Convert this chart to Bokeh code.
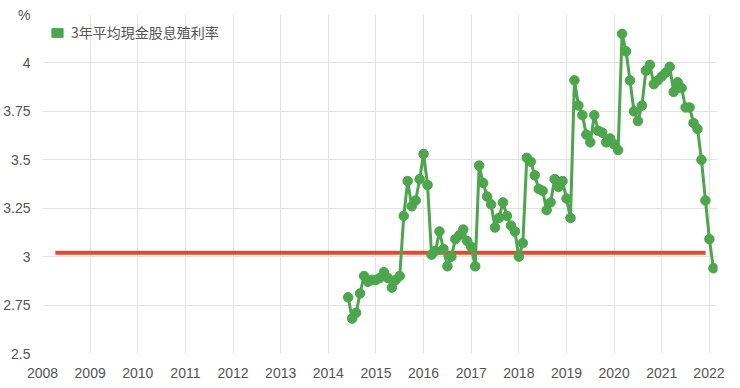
from bokeh.plotting import figure
from bokeh.models import FixedTicker, Range1d, Legend, LegendItem, ColumnDataSource
from bokeh.embed import file_html
from bokeh.resources import INLINE

# ---- data (monthly, month-end, May 2014 .. Jan 2022) ----
start_year, start_month = 2014, 5
yield_3y = [2.79, 2.68, 2.71, 2.81, 2.90, 2.87, 2.88, 2.88, 2.89, 2.92, 2.89, 2.84,
            2.88, 2.90, 3.21, 3.39, 3.26, 3.29, 3.40, 3.53, 3.37, 3.01, 3.03, 3.13,
            3.04, 2.95, 3.00, 3.09, 3.11, 3.14, 3.08, 3.05, 2.95, 3.47, 3.38, 3.31,
            3.27, 3.15, 3.20, 3.28, 3.21, 3.16, 3.13, 3.00, 3.07, 3.51, 3.49, 3.42,
            3.35, 3.34, 3.24, 3.28, 3.40, 3.36, 3.39, 3.30, 3.20, 3.91, 3.78, 3.73,
            3.63, 3.59, 3.73, 3.65, 3.64, 3.59, 3.61, 3.58, 3.55, 4.15, 4.06, 3.91,
            3.75, 3.70, 3.78, 3.96, 3.99, 3.89, 3.91, 3.93, 3.95, 3.98, 3.85, 3.90,
            3.87, 3.77, 3.77, 3.69, 3.66, 3.50, 3.29, 3.09, 2.94]
ref_x = [2008.27, 2021.92]
ref_y = [3.02, 3.02]
x_years = list(range(2008, 2023))
y_ticks = [2.5, 2.75, 3, 3.25, 3.5, 3.75, 4, 4.25]
y_labels = ["2.5", "2.75", "3", "3.25", "3.5", "3.75", "4", "%"]
legend_label = "3年平均現金股息殖利率"

xs = [start_year + (start_month + i) / 12 for i in range(len(yield_3y))]

GREEN = "#4ca64c"
RED = "#e8301e"
GRID = "#e3e3e3"
TXT = "#555555"

p = figure(width=724, height=380, output_backend="svg", toolbar_location=None,
           x_range=Range1d(2008, 2022.17), y_range=Range1d(2.5, 4.25),
           min_border_left=34, min_border_right=7, min_border_top=14, min_border_bottom=27)
p.outline_line_color = None
p.background_fill_color = "white"

for ax in (p.xaxis[0], p.yaxis[0]):
    ax.axis_line_color = None
    ax.major_tick_line_color = None
    ax.minor_tick_line_color = None
    ax.major_label_text_color = TXT
    ax.major_label_text_font = "Liberation Sans"
    ax.major_label_text_font_size = "14px"

p.xaxis.ticker = FixedTicker(ticks=x_years)
p.xaxis.major_label_overrides = {y: str(y) for y in x_years}
p.xaxis.major_label_standoff = 8
p.yaxis.ticker = FixedTicker(ticks=y_ticks)
p.yaxis.major_label_overrides = {t: l for t, l in zip(y_ticks, y_labels)}
p.yaxis.major_label_standoff = 6

p.xgrid.grid_line_color = GRID
p.ygrid.grid_line_color = GRID
p.xgrid.ticker = FixedTicker(ticks=x_years)
p.ygrid.ticker = FixedTicker(ticks=y_ticks)

p.line(ref_x, ref_y, line_color=RED, line_width=4, line_alpha=0.9)

src = ColumnDataSource(dict(x=xs, y=yield_3y))
p.line("x", "y", source=src, line_color=GREEN, line_width=3)
p.scatter("x", "y", source=src, size=9.5, fill_color=GREEN, line_color=GREEN)

nan = float("nan")
sw = p.quad(left=[nan], right=[nan], top=[nan], bottom=[nan],
            fill_color=GREEN, line_color=GREEN)

legend = Legend(items=[LegendItem(label=legend_label, renderers=[sw])],
                location="top_left", orientation="vertical")
legend.margin = 8
legend.padding = 2
legend.glyph_width = 14
legend.glyph_height = 11
legend.label_standoff = 7
legend.label_text_font = "Noto Sans CJK SC"
legend.label_text_font_size = "14px"
legend.label_text_color = TXT
legend.border_line_color = None
legend.background_fill_alpha = 0
p.add_layout(legend)

open("out.html", "w").write(file_html(p, INLINE))
